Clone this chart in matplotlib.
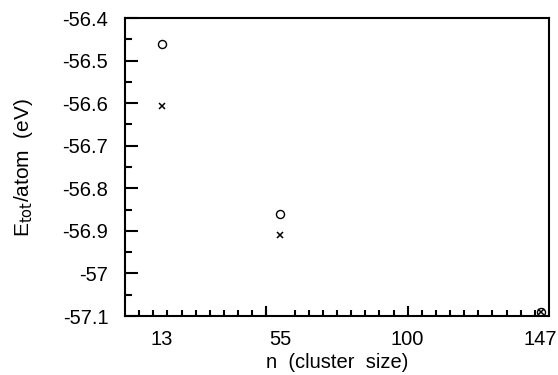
import matplotlib.pyplot as plt
from matplotlib.ticker import MultipleLocator

plt.rcParams['font.family'] = ['Liberation Sans', 'DejaVu Sans']

# cluster sizes and total energy per atom (eV) for the two calculations
n_sizes = [13, 55, 147]
e_circle = [-56.461, -56.861, -57.091]
e_cross = [-56.607, -56.909, -57.091]

x_tick_pos = [13, 55, 100, 147]
x_tick_labels = ["13", "55", "100", "147"]
y_ticks = [-56.4, -56.5, -56.6, -56.7, -56.8, -56.9, -57.0, -57.1]
y_tick_labels = ["-56.4", "-56.5", "-56.6", "-56.7", "-56.8", "-56.9", "-57", "-57.1"]

fig = plt.figure(figsize=(5.58, 3.75), dpi=100)
ax = fig.add_axes([125 / 558, 1 - 316 / 375, 424 / 558, 298 / 375])

ax.plot(n_sizes, e_circle, linestyle="none", marker="o", markersize=5.8,
        markerfacecolor="none", markeredgecolor="black", markeredgewidth=1.0)
ax.plot(n_sizes, e_cross, linestyle="none", marker="x", markersize=5,
        color="black", markeredgewidth=1.1)

ax.set_xlim(0, 150)
ax.set_ylim(-57.1, -56.4)

# y axis: labelled ticks every 0.1, half steps between
ax.set_yticks(y_ticks)
ax.set_yticklabels(y_tick_labels)
ax.yaxis.set_minor_locator(MultipleLocator(0.05))
ax.tick_params(axis="y", which="major", direction="in", length=9, width=1.5,
               labelsize=14.5, pad=12)
ax.tick_params(axis="y", which="minor", direction="in", length=5, width=1.5)

# x axis: tick marks every 5 with longer ones at 50 and 100, labels at cluster sizes
ax.set_xticks(x_tick_pos)
ax.set_xticklabels(x_tick_labels)
ax.tick_params(axis="x", which="major", length=0, labelsize=14.5, pad=10)
ax.set_xticks([5 * i for i in range(1, 30)], minor=True)
ax.tick_params(axis="x", which="minor", direction="in", length=4, width=1.5)
for xv in [50, 100]:
    ax.plot([xv, xv], [0, 0.03], color="black", linewidth=1.5,
            transform=ax.get_xaxis_transform(), clip_on=False)

for side in ["left", "bottom", "top", "right"]:
    ax.spines[side].set_linewidth(1.5)

ax.set_xlabel("n  (cluster  size)", fontsize=14.5, labelpad=3)
ax.set_ylabel(r"E$_{\mathrm{tot}}$/atom  (eV)", fontsize=15, labelpad=20)

fig.savefig("out.png", dpi=100)
